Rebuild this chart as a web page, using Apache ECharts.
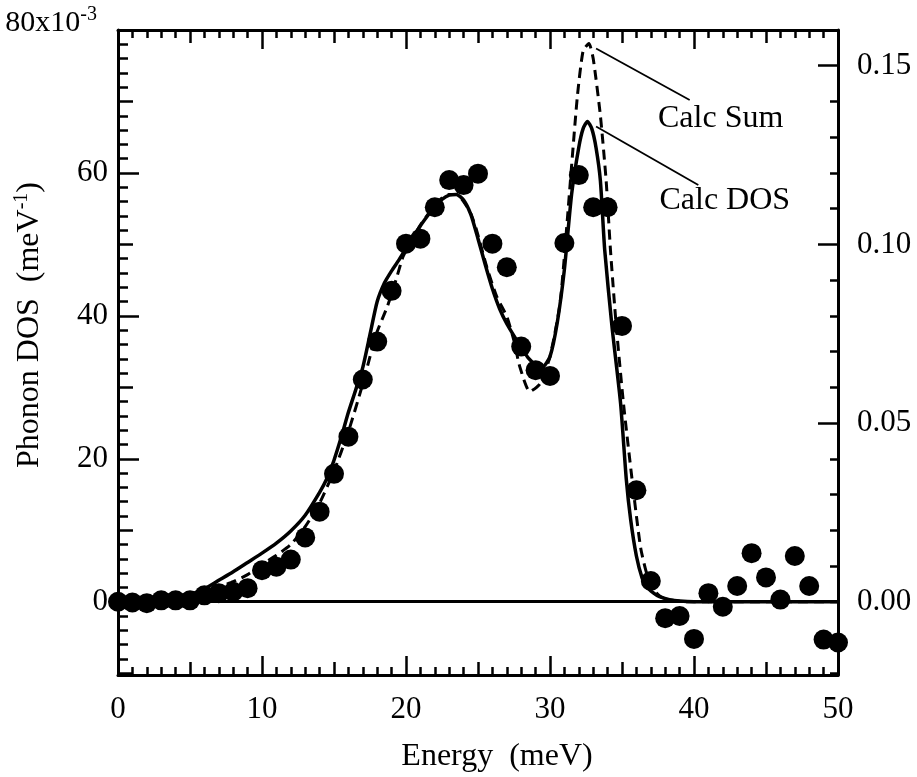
<!DOCTYPE html>
<html>
<head>
<meta charset="utf-8">
<script src="https://cdn.jsdelivr.net/npm/echarts@6/dist/echarts.min.js"></script>
<style>
  html, body { margin: 0; padding: 0; background: #ffffff; }
  #chart { width: 917px; height: 777px; }
</style>
</head>
<body>
<div id="chart"></div>
<script>
// ---------- data ----------
var measuredEnergy = [0,1,2,3,4,5,6,7,8,9,10,11,12,13,14,15,16,17,18,19,20,21,22,23,24,25,26,27,28,29,30,31,32,33,34,35,36,37,38,39,40,41,42,43,44,45,46,47,48,49,50];
var measuredDos = [0,-0.1,-0.2,0.2,0.2,0.2,0.9,1.2,1.4,1.9,4.4,4.9,5.9,9.0,12.6,17.9,23.1,31.1,36.4,43.5,50.1,50.8,55.2,59.0,58.3,59.9,50.1,46.8,35.7,32.4,31.6,50.2,59.7,55.2,55.2,38.6,15.6,2.9,-2.3,-2.0,-5.2,1.2,-0.7,2.2,6.8,3.4,0.3,6.4,2.2,-5.3,-5.7];

var calcDosEnergy = [0,1,2,3,4,5,6,7,8,9,10,11,12,13,14,14.5,15,15.5,16,16.5,17,17.5,18,18.5,19,19.5,20,20.5,21,21.5,22,22.5,23,23.5,24,24.5,25,25.5,26,26.5,27,27.5,28,28.5,29,29.5,30,30.5,31,31.5,32,32.3,32.6,32.9,33.2,33.5,33.8,34.3,34.9,35.3,35.6,36,36.4,36.7,37.2,37.6,38.3,39,40,50];
var calcDosValue  = [0,0,0.1,0.2,0.5,1.0,1.8,3.0,4.2,5.5,6.8,8.2,9.9,12.1,15.3,17.2,19.8,23.0,26.5,29.6,32.8,37.4,42.0,44.6,46.3,47.8,49.4,51.0,52.6,54.0,55.3,56.3,56.9,57.0,56.2,54.2,50.8,47.2,43.8,41.0,38.9,37.2,35.6,34.1,33.2,32.9,34.3,39.0,46.5,57.0,63.6,66.2,67.2,66.2,63.5,58.9,49.2,38.6,27.8,17.1,11.5,6.4,3.3,2.1,1.2,0.7,0.3,0.1,0,0];

var calcSumEnergy = [0,2,4,5,6,7,8,9,10,11,12,13,14,15,16,17,17.5,18,18.7,19.3,19.8,20.5,21,22,22.5,23,23.5,24,24.5,24.9,25.6,26.3,27,27.5,27.9,28.6,29.3,30,30.7,31.2,31.5,31.9,32.3,32.7,33,33.5,33.9,34.2,34.6,35.1,35.7,36.3,36.9,37.5,37.9,38.5,39.5,50];
var calcSumValue  = [0,0,0.2,0.4,0.9,2.0,2.8,3.8,5.2,6.5,8.0,10.5,13.8,18.3,23.8,30.5,34.3,37.8,41.3,45.0,48.3,51.0,52.7,55.5,56.5,57.0,57.0,56.0,54.3,52.0,46.9,42.7,39.9,36.5,32.9,29.4,30.5,34.3,41.8,53.4,61.0,70.7,77.1,78.1,76.0,68.0,58.9,49.2,38.6,27.8,17.1,7.5,2.7,1.0,0.5,0.2,0,0];

var leftTickLabels = [0, 20, 40, 60, 80];
var rightTickLabels = [0, 0.05, 0.10, 0.15];

// ---------- helpers ----------
function zip(a, b) { var r = []; for (var i = 0; i < a.length; i++) r.push([a[i], b[i]]); return r; }
function range(start, end, step, skipEvery) {
  var r = [];
  for (var v = start; v <= end + 1e-9; v += step) {
    var vv = Math.round(v * 1000) / 1000;
    if (skipEvery && Math.abs(Math.round(vv / skipEvery) * skipEvery - vv) < 1e-9) continue;
    r.push(vv);
  }
  return r;
}

var FONT = "'Liberation Serif', 'Times New Roman', serif";
var FS = 31;
var BLACK = '#000';
var Y_MIN = -10.25, Y_MAX = 80;
var R_MIN = Y_MIN * 0.002, R_MAX = Y_MAX * 0.002;

function xAxisDef(pos, interval, len, showLabel, showLine, minor) {
  return {
    type: 'value', position: pos, min: 0, max: 50, interval: interval,
    axisLine: { show: showLine, onZero: false, lineStyle: { color: BLACK, width: 3 } },
    axisTick: { show: true, inside: true, length: len, lineStyle: { color: BLACK, width: 2.5 } },
    minorTick: minor ? { show: true, splitNumber: 10, length: 8, lineStyle: { color: BLACK, width: 2.5 } } : { show: false },
    axisLabel: { show: showLabel, color: BLACK, fontFamily: FONT, fontSize: FS, margin: 19 },
    splitLine: { show: false }
  };
}

function yAxisDef(pos, min, max, ticks, len, showLine, labels, labelOpts) {
  var ax = {
    type: 'value', position: pos, min: min, max: max,
    axisLine: { show: showLine, onZero: false, lineStyle: { color: BLACK, width: 3 } },
    axisTick: { show: true, inside: true, length: len, customValues: ticks, lineStyle: { color: BLACK, width: 2.5 } },
    axisLabel: { show: false },
    splitLine: { show: false }
  };
  if (labels) {
    ax.axisLabel = Object.assign({ show: true, customValues: labels, color: BLACK, fontFamily: FONT, fontSize: FS }, labelOpts);
  }
  return ax;
}

var chart = echarts.init(document.getElementById('chart'), null, { renderer: 'canvas' });

var option = {
  animation: false,
  backgroundColor: '#ffffff',
  grid: { left: 118, right: 79, top: 30, bottom: 102, containLabel: false, outerBoundsMode: 'none' },
  xAxis: [
    xAxisDef('bottom', 10, 19, true, true, true),
    xAxisDef('bottom', 5, 13, false, false, false),
    xAxisDef('top', 10, 19, false, true, true),
    xAxisDef('top', 5, 13, false, false, false)
  ],
  yAxis: [
    yAxisDef('left', Y_MIN, Y_MAX, leftTickLabels, 21, true, leftTickLabels, {
      margin: 10,
      formatter: function (v) { return v === 80 ? '{b|80x10}{s|-3}' : String(v); },
      rich: {
        b: { fontFamily: FONT, fontSize: 30, color: BLACK, padding: [0, 0, 14, 0] },
        s: { fontFamily: FONT, fontSize: 20, color: BLACK, padding: [0, 11, 30, 0] }
      }
    }),
    yAxisDef('left', Y_MIN, Y_MAX, [-10, 10, 30, 50, 70], 15, false),
    yAxisDef('left', Y_MIN, Y_MAX, range(-8, 78, 2, 10), 10, false),
    yAxisDef('right', R_MIN, R_MAX, rightTickLabels, 20, true, rightTickLabels, {
      margin: 19,
      formatter: function (v) { return v.toFixed(2); }
    }),
    yAxisDef('right', R_MIN, R_MAX, range(-0.02, 0.16, 0.01, 0.05), 8, false)
  ],
  series: [
    {
      name: 'Calc Sum', type: 'line', xAxisIndex: 0, yAxisIndex: 0,
      data: zip(calcSumEnergy, calcSumValue),
      showSymbol: false, symbol: 'none', smooth: 0.2,
      lineStyle: { color: BLACK, width: 3, type: [10, 6] },
      z: 3
    },
    {
      name: 'Calc DOS', type: 'line', xAxisIndex: 0, yAxisIndex: 0,
      data: zip(calcDosEnergy, calcDosValue),
      showSymbol: false, symbol: 'none', smooth: 0.2,
      lineStyle: { color: BLACK, width: 3.5 },
      z: 4,
      markLine: {
        silent: true, symbol: ['none', 'none'], label: { show: false },
        lineStyle: { color: BLACK, width: 1.8, type: 'solid' },
        data: [
          [{ coord: [33.2, 77.4] }, { coord: [39.7, 70.2] }],
          [{ coord: [33.2, 66.5] }, { coord: [40.3, 58.3] }]
        ]
      },
      markPoint: {
        silent: true, symbol: 'circle', symbolSize: 0,
        label: { show: true, position: 'right', distance: 0, color: BLACK, fontFamily: FONT, fontSize: 32 },
        data: [
          { coord: [37.5, 67.6], value: 0, label: { formatter: 'Calc Sum' } },
          { coord: [37.6, 56.1], value: 0, label: { formatter: 'Calc DOS' } }
        ]
      }
    },
    {
      name: 'Measured', type: 'scatter', xAxisIndex: 0, yAxisIndex: 0,
      data: zip(measuredEnergy, measuredDos),
      symbol: 'circle', symbolSize: 20,
      itemStyle: { color: BLACK, opacity: 1 },
      z: 5,
      markLine: {
        silent: true, symbol: ['none', 'none'], label: { show: false },
        lineStyle: { color: BLACK, width: 3, type: 'solid' },
        data: [{ yAxis: 0 }]
      }
    }
  ],
  graphic: [
    {
      type: 'text', x: 497, y: 757,
      style: { text: 'Energy  (meV)', font: "32px 'Liberation Serif', 'Times New Roman', serif", fill: BLACK, align: 'center', verticalAlign: 'middle' }
    },
    {
      type: 'text', x: 30, y: 325, rotation: Math.PI / 2,
      style: {
        text: 'Phonon DOS  (meV{s|-1})',
        font: "32px 'Liberation Serif', 'Times New Roman', serif",
        fill: BLACK, align: 'center', verticalAlign: 'middle',
        rich: { s: { fontSize: 20, fontFamily: FONT, fill: BLACK, padding: [0, 0, 16, 0] } }
      }
    }
  ]
};
chart.setOption(option);
</script>
</body>
</html>
